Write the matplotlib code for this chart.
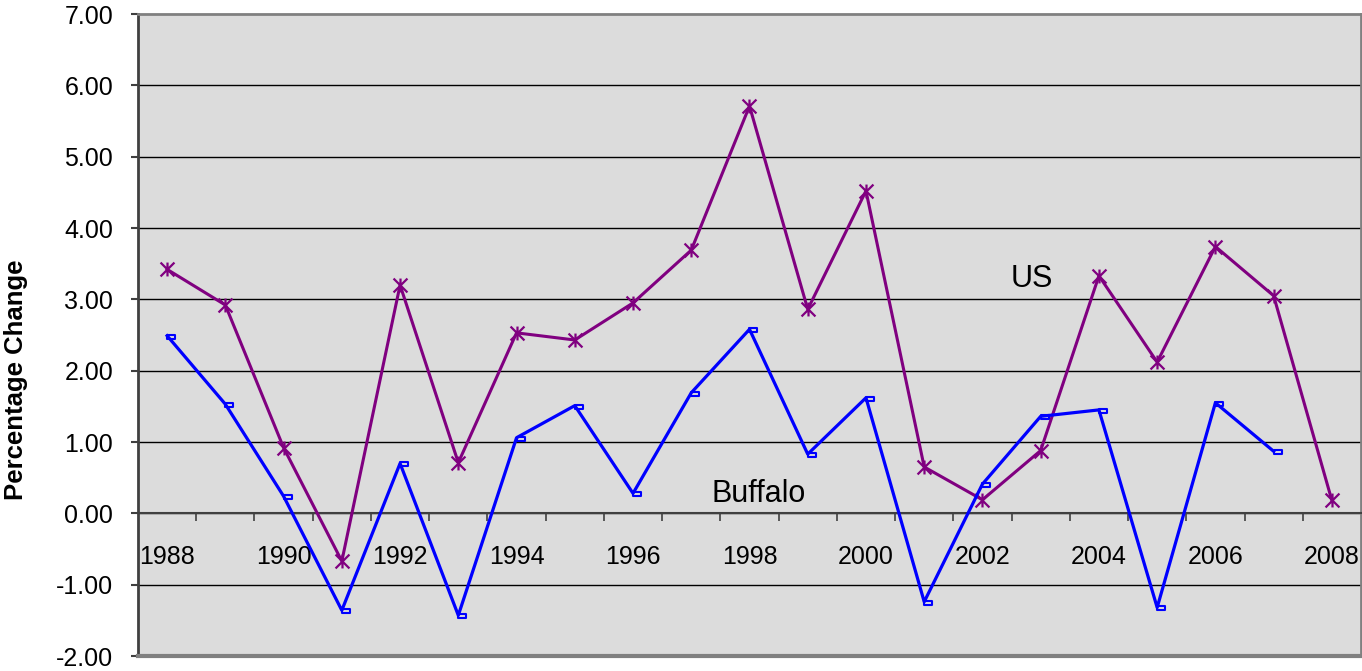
"""Annual percentage change, Buffalo vs US, 1988-2008 (Excel-style line chart)."""
import matplotlib

matplotlib.use("Agg")
import matplotlib.pyplot as plt
from matplotlib.path import Path

plt.rcParams["font.family"] = ["Liberation Sans", "DejaVu Sans"]
plt.rcParams["axes.unicode_minus"] = False

YEARS = ["1988", "1989", "1990", "1991", "1992", "1993", "1994", "1995",
         "1996", "1997", "1998", "1999", "2000", "2001", "2002", "2003",
         "2004", "2005", "2006", "2007", "2008"]
US = [3.42, 2.92, 0.92, -0.67, 3.20, 0.71, 2.53, 2.43, 2.95, 3.69, 5.71,
      2.86, 4.52, 0.65, 0.19, 0.88, 3.33, 2.12, 3.74, 3.05, 0.18]
BUFFALO = [2.49, 1.53, 0.24, -1.36, 0.70, -1.43, 1.06, 1.51, 0.28, 1.69,
           2.58, 0.83, 1.62, -1.24, 0.41, 1.36, 1.45, -1.32, 1.55, 0.87]
Y_TICKS = [-2, -1, 0, 1, 2, 3, 4, 5, 6, 7]

PURPLE, BLUE = "#800080", "#0000FF"
PLOT_BG, FRAME = "#DCDCDC", "#808080"

# Excel "asterisk" marker: an X with a vertical stroke
STAR = Path([(-1, -1), (1, 1), (-1, 1), (1, -1), (0, -1), (0, 1)],
            [Path.MOVETO, Path.LINETO] * 3)
# small dash box sitting just right of the point
DASH = Path([(0, 0.15), (1, 0.15), (1, -0.35), (0, -0.35), (0, 0.15)],
            [Path.MOVETO, Path.LINETO, Path.LINETO, Path.LINETO,
             Path.CLOSEPOLY])

fig = plt.figure(figsize=(13.62, 6.71), dpi=100)
ax = fig.add_axes([138 / 1362, 15 / 671, 1223 / 1362, 642 / 671])
ax.set_facecolor(PLOT_BG)

n = len(YEARS)
ax.set_xlim(-0.5, n - 0.5)
ax.set_ylim(Y_TICKS[0], Y_TICKS[-1])

for v in Y_TICKS[1:-1]:
    ax.axhline(v, color="black", lw=1.0, zorder=1)

ax.plot(range(len(US)), US, color=PURPLE, lw=2.2, marker=STAR, ms=10,
        mec=PURPLE, mfc="none", mew=1.6, zorder=3)
ax.plot(range(len(BUFFALO)), BUFFALO, color=BLUE, lw=2.3, marker=DASH,
        ms=11, mec=BLUE, mfc="none", mew=1.5, zorder=4)

ax.text(14.48, 3.17, "US", fontsize=22, color="black", ha="left",
        va="baseline")
ax.text(9.35, 0.16, "Buffalo", fontsize=22, color="black", ha="left",
        va="baseline")

# frame
for side in ("top", "right", "left"):
    ax.spines[side].set_color(FRAME)
    ax.spines[side].set_linewidth(2.0)
ax.spines["left"].set_color("#404040")
ax.spines["bottom"].set_position(("data", 0))
ax.spines["bottom"].set_color("#404040")
ax.spines["bottom"].set_linewidth(1.5)
ax.axhline(Y_TICKS[0], color=FRAME, lw=3.0, clip_on=False, zorder=5)

# y axis
ax.set_yticks(Y_TICKS)
ax.set_yticklabels([f"{v:.2f}" for v in Y_TICKS])
ax.tick_params(axis="y", direction="out", length=5, width=1.5,
               color="#404040", labelsize=18, pad=13)

# x axis: labels every other year, tick marks between categories
ax.set_xticks(range(0, n, 2))
ax.set_xticklabels(YEARS[::2])
ax.set_xticks([i - 0.5 for i in range(1, n)], minor=True)
ax.tick_params(axis="x", which="major", length=0, labelsize=18, pad=23)
ax.tick_params(axis="x", which="minor", direction="out", length=6,
               width=1.2, color="#404040")

fig.text(0.012, 0.434, "Percentage Change", rotation=90, fontsize=18.5,
         fontweight="bold", ha="center", va="center")

fig.savefig("out.png", dpi=100, facecolor="white")
